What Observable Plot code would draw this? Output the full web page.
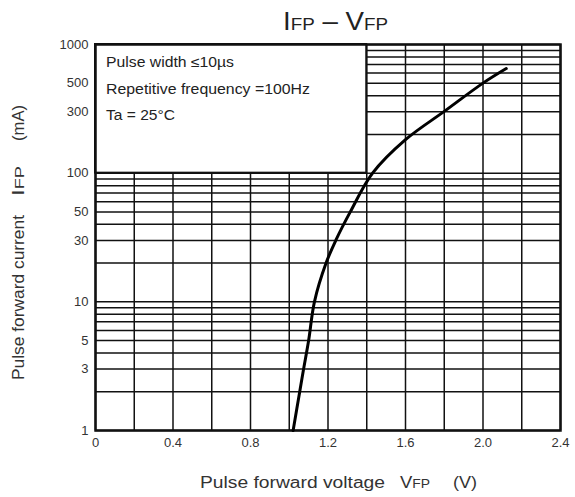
<!DOCTYPE html>
<html><head><meta charset="utf-8">
<script src="https://cdn.jsdelivr.net/npm/d3@7"></script>
<script src="https://cdn.jsdelivr.net/npm/@observablehq/plot@0.6"></script>
<style>
body{margin:0;background:#fff;}
svg{font-family:"Liberation Sans",Arial,sans-serif;}
</style>
</head><body><div id="chart"></div>
<script>
// Curve: forward voltage (V) vs pulse forward current (mA)
const voltage = [1.02, 1.054, 1.074, 1.1, 1.13, 1.19, 1.24, 1.315, 1.43, 1.6, 1.8, 2.0, 2.12];
const current = [1, 2, 3, 5, 10, 20, 30, 50, 100, 182, 302, 501, 650];

const xTicks = [0, 0.4, 0.8, 1.2, 1.6, 2.0, 2.4];
const xTickLabels = ["0", "0.4", "0.8", "1.2", "1.6", "2.0", "2.4"];
const yTicks = [1, 3, 5, 10, 30, 50, 100, 300, 500, 1000];
const yTickLabels = ["1", "3", "5", "10", "30", "50", "100", "300", "500", "1000"];
const xGrid = [0, 0.2, 0.4, 0.6, 0.8, 1.0, 1.2, 1.4, 1.6, 1.8, 2.0, 2.2, 2.4];
const yGrid = [1, 2, 3, 4, 5, 6, 7, 8, 9, 10, 20, 30, 40, 50, 60, 70, 80, 90,
               100, 200, 300, 400, 500, 600, 700, 800, 900, 1000];

const notes = ["Pulse width \u226410\u00b5s", "Repetitive frequency =100Hz", "Ta = 25\u00b0C"];
const noteBox = [{x1: 0, x2: 1.4, y1: 100, y2: 1000}];

const titleParts = ["I", "FP", " \u2013 V", "FP"];
const yLabelParts = ["Pulse forward current", "I", "FP", "(mA)"];
const xLabelParts = ["Pulse forward voltage", "V", "FP", "(V)"];

const data = voltage.map((v, i) => ({v, i: current[i]}));
const yTickData = yTicks.map((v, i) => ({v, label: yTickLabels[i]}));

const chart = Plot.plot({
  width: 575,
  height: 497,
  marginLeft: 95,
  marginRight: 15,
  marginTop: 44,
  marginBottom: 67,
  style: {fontFamily: "'Liberation Sans', Arial, sans-serif", background: "#fff", color: "#333"},
  x: {domain: [0, 2.4]},
  y: {type: "log", domain: [1, 1000], axis: null},
  marks: [
    Plot.ruleX(xGrid, {stroke: "#111", strokeWidth: 1.5}),
    Plot.ruleY(yGrid, {stroke: "#111", strokeWidth: 1.5}),
    Plot.rect(noteBox, {x1: "x1", x2: "x2", y1: "y1", y2: "y2", fill: "#fff", stroke: "#111", strokeWidth: 2}),
    Plot.frame({stroke: "#111", strokeWidth: 2.5}),
    Plot.line(data, {x: "v", y: "i", curve: "catmull-rom", stroke: "#000", strokeWidth: 3}),
    Plot.axisX(xTicks, {tickSize: 0, tickPadding: 7, fontSize: 13, label: null,
      tickFormat: d => xTickLabels[xTicks.indexOf(d)]}),
    Plot.text(yTickData, {y: "v", text: "label", frameAnchor: "left", textAnchor: "end",
      dx: -7, fontSize: 13, fill: "#333"})
  ]
});

document.getElementById("chart").appendChild(chart);

const svg = d3.select(chart);
const txt = svg.append("g").attr("fill", "#222").attr("text-anchor", "start")
  .attr("font-family", "'Liberation Sans', Arial, sans-serif");

// Title
const t = txt.append("text").attr("x", 283).attr("y", 30)
  .attr("textLength", 105).attr("lengthAdjust", "spacingAndGlyphs");
t.append("tspan").attr("font-size", 25).text(titleParts[0]);
t.append("tspan").attr("font-size", 17).text(titleParts[1]);
t.append("tspan").attr("font-size", 25).text(titleParts[2]);
t.append("tspan").attr("font-size", 17).text(titleParts[3]);

// Notes inside the box
const noteY = [67, 94, 120];
const noteLen = [128, 204, 69];
notes.forEach((n, k) => {
  txt.append("text").attr("x", 106).attr("y", noteY[k]).attr("font-size", 14)
    .attr("textLength", noteLen[k]).attr("lengthAdjust", "spacingAndGlyphs").text(n);
});

// Y axis label (rotated)
const yl = txt.append("g").attr("transform", "translate(24,0) rotate(-90)").attr("font-size", 16).attr("fill", "#333");
yl.append("text").attr("x", -380).attr("y", 0).attr("textLength", 165).attr("lengthAdjust", "spacingAndGlyphs").text(yLabelParts[0]);
const yi = yl.append("text").attr("x", -196).attr("y", 0).attr("textLength", 30).attr("lengthAdjust", "spacingAndGlyphs");
yi.append("tspan").attr("font-size", 16).text(yLabelParts[1]);
yi.append("tspan").attr("font-size", 12).text(yLabelParts[2]);
yl.append("text").attr("x", -141).attr("y", 0).attr("textLength", 36).attr("lengthAdjust", "spacingAndGlyphs").text(yLabelParts[3]);

// X axis label
const xl = txt.append("g").attr("font-size", 16).attr("fill", "#333");
xl.append("text").attr("x", 200).attr("y", 488).attr("textLength", 185).attr("lengthAdjust", "spacingAndGlyphs").text(xLabelParts[0]);
const xv = xl.append("text").attr("x", 400).attr("y", 488).attr("textLength", 30).attr("lengthAdjust", "spacingAndGlyphs");
xv.append("tspan").attr("font-size", 16).text(xLabelParts[1]);
xv.append("tspan").attr("font-size", 12).text(xLabelParts[2]);
xl.append("text").attr("x", 453).attr("y", 488).attr("textLength", 24).attr("lengthAdjust", "spacingAndGlyphs").text(xLabelParts[3]);
</script>
</body></html>
